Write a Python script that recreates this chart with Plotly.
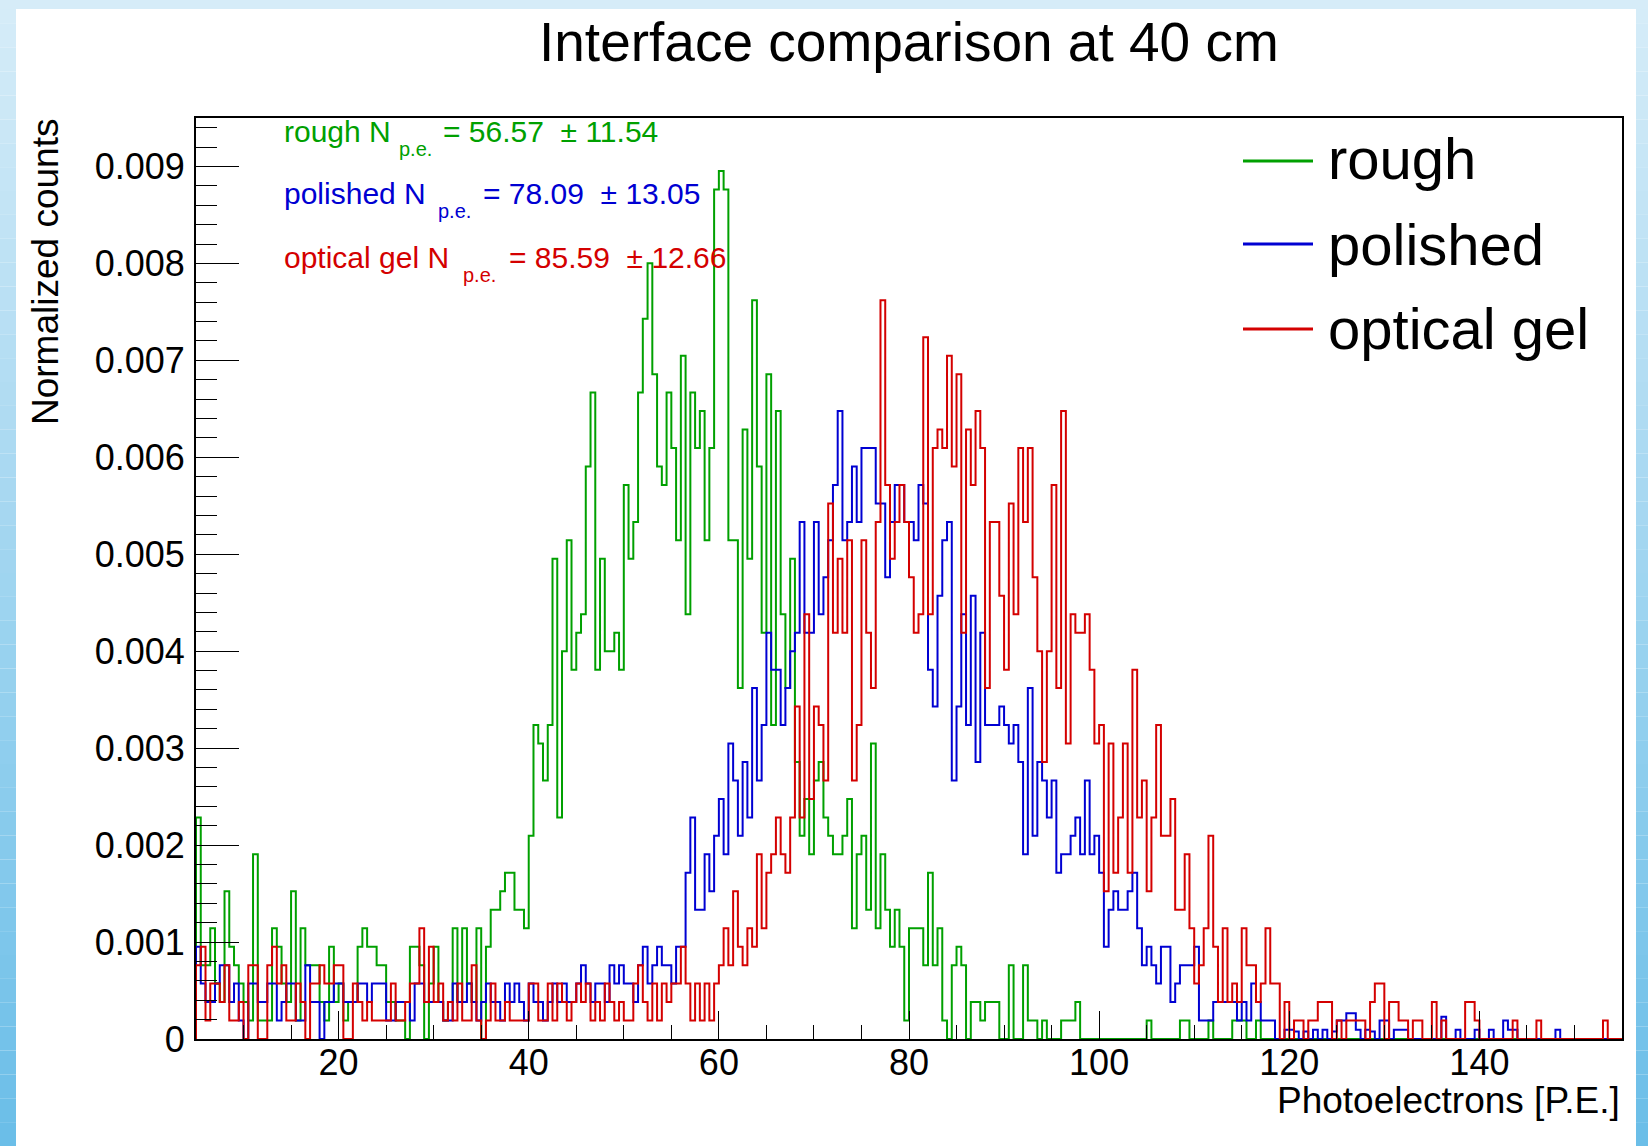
import plotly.graph_objects as go

# ---------------- data ----------------
X_MIN, X_MAX, N_BINS = 5.0, 155.0, 300
COUNT_UNIT = 1.905e-4          # normalized value of one histogram entry

rough_counts = [
    12, 4, 4, 6, 3, 2, 8, 5, 4, 3,
    2, 1, 10, 1, 1, 1, 6, 5, 3, 2,
    8, 1, 6, 4, 4, 4, 2, 1, 5, 2,
    3, 1, 2, 2, 5, 6, 5, 5, 4, 4,
    2, 2, 1, 1, 0, 5, 5, 4, 0, 3,
    5, 2, 1, 2, 6, 2, 6, 3, 2, 6,
    0, 5, 7, 7, 8, 9, 9, 7, 7, 6,
    11, 17, 16, 14, 17, 26, 12, 21, 27, 20,
    22, 23, 31, 35, 20, 26, 21, 21, 22, 20,
    30, 26, 28, 35, 39, 42, 36, 31, 30, 35,
    32, 27, 37, 23, 35, 32, 34, 27, 32, 46,
    47, 46, 27, 27, 19, 33, 26, 40, 31, 22,
    36, 17, 34, 23, 19, 26, 15, 11, 13, 10,
    14, 15, 12, 11, 10, 10, 11, 13, 6, 10,
    11, 7, 16, 6, 10, 7, 5, 7, 5, 1,
    6, 6, 6, 4, 9, 4, 6, 1, 0, 4,
    5, 4, 0, 2, 2, 1, 2, 2, 2, 0,
    0, 4, 0, 0, 4, 1, 1, 0, 1, 0,
    0, 0, 1, 1, 1, 2, 0, 0, 0, 0,
    0, 0, 0, 0, 0, 0, 0, 0, 0, 0,
    1, 0, 0, 0, 0, 0, 0, 1, 1, 0,
    0, 0, 0, 1, 0, 0, 0, 0, 1, 1,
    1, 0, 0, 1, 0, 0, 0, 0, 0, 0,
    0, 0, 0, 0, 0, 0, 0, 0, 0, 0,
    0, 0, 0, 0, 0, 0, 0, 0, 0, 0,
    0, 0, 0, 0, 0, 0, 0, 0, 0, 0,
    0, 0, 0, 0, 0, 0, 0, 0, 0, 0,
    0, 0, 0, 0, 0, 0, 0, 0, 0, 0,
    0, 0, 0, 0, 0, 0, 0, 0, 0, 0,
    0, 0, 0, 0, 0, 0, 0, 0, 0, 0,
]

polished_counts = [
    5, 3, 2, 2, 3, 4, 4, 2, 3, 1,
    0, 3, 3, 2, 2, 3, 3, 1, 2, 3,
    3, 1, 1, 4, 2, 2, 0, 2, 2, 3,
    3, 2, 2, 2, 3, 3, 2, 3, 3, 3,
    1, 1, 2, 2, 2, 1, 3, 3, 2, 2,
    2, 2, 1, 1, 3, 2, 2, 3, 2, 1,
    2, 3, 2, 2, 1, 3, 2, 3, 2, 1,
    3, 2, 2, 1, 2, 3, 2, 3, 2, 2,
    3, 4, 3, 2, 3, 3, 2, 4, 3, 4,
    3, 3, 2, 4, 5, 3, 4, 5, 4, 4,
    3, 5, 5, 9, 12, 7, 7, 10, 8, 11,
    13, 10, 16, 14, 11, 15, 12, 19, 14, 17,
    22, 20, 20, 17, 19, 21, 22, 28, 22, 22,
    28, 23, 25, 27, 30, 34, 27, 28, 31, 28,
    32, 32, 32, 29, 29, 25, 28, 30, 30, 28,
    28, 27, 30, 29, 20, 18, 24, 27, 28, 14,
    18, 23, 17, 24, 15, 22, 17, 17, 17, 18,
    17, 16, 17, 15, 10, 19, 11, 15, 14, 12,
    14, 9, 10, 10, 11, 12, 10, 14, 10, 11,
    9, 5, 7, 8, 7, 7, 8, 9, 6, 4,
    5, 4, 3, 5, 5, 2, 3, 4, 4, 4,
    5, 1, 1, 1, 2, 2, 2, 2, 2, 1,
    2, 1, 3, 2, 1, 1, 1, 0, 0, 0.5,
    0.5, 0.4, 0, 0.4, 0, 0.5, 0, 0.5, 0, 0.4,
    1, 1, 1.4, 1.4, 0.5, 0, 0.5, 0.4, 0, 1,
    1, 0, 0.5, 0.5, 0.5, 0, 0, 0, 0, 0,
    0, 0, 1.2, 0, 0, 0.5, 0, 0, 0, 0.5,
    0, 0, 0.5, 0, 0, 1, 0.5, 0.5, 0, 0,
    0, 0, 0, 0, 0, 0, 0.5, 0, 0, 0,
    0, 0, 0, 0, 0, 0, 0, 0, 0, 0,
]

gel_counts = [
    4, 5, 1, 3, 3, 2, 4, 1, 1, 2,
    0, 4, 4, 0, 0, 4, 5, 3, 4, 1,
    1, 3, 2, 0, 3, 3, 4, 3, 3, 4,
    4, 0, 0, 3, 2, 1, 2, 1, 1, 1,
    1, 3, 1, 1, 2, 3, 3, 6, 2, 5,
    2, 3, 1, 2, 1, 3, 1, 1, 4, 1,
    0, 1, 3, 1, 1, 2, 1, 1, 1, 1,
    3, 3, 1, 1, 3, 1, 3, 2, 1, 2,
    3, 2, 3, 1, 2, 1, 3, 2, 1, 2,
    1, 1, 3, 4, 2, 1, 3, 1, 3, 2,
    3, 3, 5, 3, 1, 3, 1, 3, 1, 3,
    4, 6, 4, 8, 5, 4, 6, 5, 10, 6,
    9, 10, 12, 10, 9, 12, 18, 12, 23, 13,
    18, 17, 14, 29, 22, 26, 22, 27, 14, 17,
    27, 22, 19, 28, 40, 30, 26, 28, 30, 28,
    25, 22, 23, 38, 23, 32, 33, 32, 37, 31,
    36, 22, 33, 30, 34, 32, 19, 28, 28, 24,
    20, 29, 23, 32, 28, 32, 25, 21, 15, 21,
    30, 19, 34, 16, 23, 22, 22, 23, 20, 16,
    17, 8, 16, 9, 12, 16, 9, 20, 12, 14,
    8, 12, 17, 11, 11, 13, 7, 7, 10, 6,
    3, 4, 6, 11, 5, 2, 6, 2, 3, 2,
    6, 4, 4, 2, 3, 6, 3, 3, 0, 2,
    0, 1, 1, 0, 1, 1, 2, 2, 2, 0,
    1, 0, 1, 1, 1, 1, 0, 2, 3, 3,
    0, 2, 2, 1, 1, 0, 1, 1, 0, 0,
    2, 0, 1, 0, 0, 0, 0, 2, 2, 1,
    0, 0, 0, 0, 0, 0, 0, 1, 0, 0,
    0, 0, 1, 0, 0, 0, 0, 0, 0, 0,
    0, 0, 0, 0, 0, 0, 1, 0, 0, 0,
]

series_names = ["rough", "polished", "optical gel"]
series_colors = ["#00a000", "#0000d2", "#d40000"]
series_counts = [rough_counts, polished_counts, gel_counts]
stat_labels = ["rough N", "polished N", "optical gel N"]
stat_means = ["56.57", "78.09", "85.59"]
stat_rms = ["11.54", "13.05", "12.66"]

x_tick_vals = [20, 40, 60, 80, 100, 120, 140]
y_tick_vals = [0, 0.001, 0.002, 0.003, 0.004, 0.005, 0.006, 0.007, 0.008, 0.009]
y_tick_text = ["0", "0.001", "0.002", "0.003", "0.004", "0.005", "0.006", "0.007", "0.008", "0.009"]

TITLE = "Interface comparison at 40 cm"
X_TITLE = "Photoelectrons [P.E.]"
Y_TITLE = "Normalized counts"

# ---------------- layout geometry (pixels) ----------------
FIG_W, FIG_H = 1648, 1146
L, R, T, B = 196, 1622, 118, 1039
PW, PH = R - L, B - T
FONT = "Liberation Sans"


def px(xp):
    return (xp - L) / PW


def py(yp):
    return (B - yp) / PH


bin_width = (X_MAX - X_MIN) / N_BINS
edges = [X_MIN + i * bin_width for i in range(N_BINS + 1)]


def step_xy(counts):
    vals = [c * COUNT_UNIT for c in counts]
    xs = [edges[0]] + edges[:-1] + [edges[-1], edges[-1]]
    ys = [0.0] + vals + [vals[-1], 0.0]
    return xs, ys


fig = go.Figure()
for name, color, counts in zip(series_names, series_colors, series_counts):
    xs, ys = step_xy(counts)
    fig.add_trace(go.Scatter(x=xs, y=ys, mode="lines", name=name,
                             line=dict(color=color, width=2, shape="hv"),
                             showlegend=False, hoverinfo="skip"))

shapes = []
annotations = []

# slide background strips (blue gradient border)
top_c = (214, 236, 248)
bot_c = (106, 190, 232)
NSEG = 48
for i in range(NSEG):
    y0 = FIG_H * i / NSEG
    y1 = FIG_H * (i + 1) / NSEG
    f = (i + 0.5) / NSEG
    c = tuple(int(round(top_c[k] + (bot_c[k] - top_c[k]) * f)) for k in range(3))
    col = "rgb(%d,%d,%d)" % c
    for xa, xb in ((0, 16), (1636, FIG_W)):
        shapes.append(dict(type="rect", xref="paper", yref="paper",
                           x0=px(xa), x1=px(xb), y0=py(y1), y1=py(y0),
                           fillcolor=col, line=dict(width=0), layer="below"))
shapes.append(dict(type="rect", xref="paper", yref="paper",
                   x0=px(0), x1=px(FIG_W), y0=py(9), y1=py(0),
                   fillcolor="rgb(214,236,248)", line=dict(width=0), layer="below"))

# title
annotations.append(dict(text=TITLE, xref="paper", yref="paper", x=px(909), y=py(42),
                        xanchor="center", yanchor="middle", showarrow=False,
                        font=dict(family=FONT, size=55, color="black")))
# axis titles
annotations.append(dict(text=X_TITLE, xref="paper", yref="paper", x=px(1622), y=py(1100),
                        xanchor="right", yanchor="middle", showarrow=False,
                        font=dict(family=FONT, size=37, color="black")))
annotations.append(dict(text=Y_TITLE, xref="paper", yref="paper", x=px(45), y=py(272),
                        xanchor="center", yanchor="middle", showarrow=False, textangle=-90,
                        font=dict(family=FONT, size=37, color="black")))

# legend (manual, ROOT TLegend style)
leg_line_y = [161, 244, 329]
leg_text_dy = [-3, 1, -1]
for name, color, ly, dy in zip(series_names, series_colors, leg_line_y, leg_text_dy):
    shapes.append(dict(type="line", xref="paper", yref="paper",
                       x0=px(1243), x1=px(1313), y0=py(ly), y1=py(ly),
                       line=dict(color=color, width=3)))
    annotations.append(dict(text=name, xref="paper", yref="paper", x=px(1326), y=py(ly + dy),
                            xanchor="left", yanchor="middle", showarrow=False,
                            font=dict(family=FONT, size=58, color="black")))

# statistics text (TLatex style with subscripts)
stat_mid = [131, 193, 257]
sub_x = [397, 436, 461]
eq_x = [441, 481, 507]
SZ, SUBSZ = 30, 20
NB = "\u00a0"
for lab, mu, rms, color, ym, sx, ex in zip(stat_labels, stat_means, stat_rms, series_colors,
                                            stat_mid, sub_x, eq_x):
    annotations.append(dict(text=lab, xref="paper", yref="paper", x=px(282), y=py(ym),
                            xanchor="left", yanchor="middle", showarrow=False,
                            font=dict(family=FONT, size=SZ, color=color)))
    annotations.append(dict(text="p.e.", xref="paper", yref="paper", x=px(sx), y=py(ym + 18),
                            xanchor="left", yanchor="middle", showarrow=False,
                            font=dict(family=FONT, size=SUBSZ, color=color)))
    annotations.append(dict(text="=" + NB + mu + NB + NB + "\u00b1" + NB + rms,
                            xref="paper", yref="paper", x=px(ex), y=py(ym),
                            xanchor="left", yanchor="middle", showarrow=False,
                            font=dict(family=FONT, size=SZ, color=color)))

fig.update_layout(
    width=FIG_W, height=FIG_H,
    margin=dict(l=L, r=FIG_W - R, t=T, b=FIG_H - B, pad=0),
    paper_bgcolor="white", plot_bgcolor="white",
    showlegend=False,
    shapes=shapes, annotations=annotations,
    font=dict(family=FONT, color="black"),
)
fig.update_xaxes(range=[X_MIN, X_MAX], tickvals=x_tick_vals, ticks="inside", ticklen=28,
                 tickwidth=1, tickcolor="black", showline=True, linecolor="black", linewidth=2,
                 mirror=True, showgrid=False, zeroline=False, ticklabelstandoff=-9,
                 tickfont=dict(family=FONT, size=36, color="black"),
                 minor=dict(dtick=5, tick0=0, ticks="inside", ticklen=14, tickcolor="black",
                            tickwidth=1, showgrid=False))
fig.update_yaxes(range=[0, 0.0095], tickvals=y_tick_vals, ticktext=y_tick_text, ticks="inside",
                 ticklen=43, tickwidth=1, tickcolor="black", showline=True, linecolor="black",
                 linewidth=2, mirror=True, showgrid=False, zeroline=False, ticklabelstandoff=2,
                 tickfont=dict(family=FONT, size=36, color="black"),
                 minor=dict(dtick=0.0002, tick0=0, ticks="inside", ticklen=21, tickcolor="black",
                            tickwidth=1, showgrid=False))

fig.write_html("out.html")
